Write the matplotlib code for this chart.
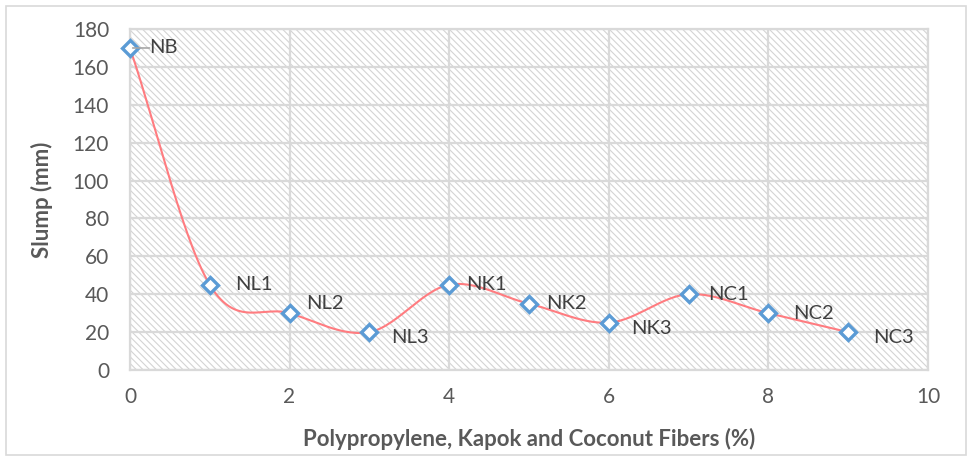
import matplotlib
matplotlib.use('Agg')
import matplotlib.pyplot as plt
import numpy as np
from matplotlib.patches import Rectangle

x = [0, 1, 2, 3, 4, 5, 6, 7, 8, 9]
slump = [170, 45, 30, 20, 45, 35, 25, 40, 30, 20]
names = ['NB', 'NL1', 'NL2', 'NL3', 'NK1', 'NK2', 'NK3', 'NC1', 'NC2', 'NC3']
# label offsets in points (dx, dy)
offsets = [(14, 0), (18, 0), (12, 7), (16, -4), (12, 0), (12, 0), (16, -4), (14, 0), (18, 0), (18, -4)]


def catmull_rom(px, py, n=30):
    px = np.asarray(px, float)
    py = np.asarray(py, float)
    P = np.column_stack([px, py])
    P = np.vstack([2 * P[0] - P[1], P, 2 * P[-1] - P[-2]])
    out = []
    t = np.linspace(0, 1, n)[:, None]
    for i in range(1, len(P) - 2):
        p0, p1, p2, p3 = P[i - 1], P[i], P[i + 1], P[i + 2]
        seg = 0.5 * ((2 * p1) + (-p0 + p2) * t + (2 * p0 - 5 * p1 + 4 * p2 - p3) * t ** 2
                     + (-p0 + 3 * p1 - 3 * p2 + p3) * t ** 3)
        out.append(seg)
    out = np.vstack(out)
    return out[:, 0], out[:, 1]


plt.rcParams['font.family'] = ['Lato', 'DejaVu Sans']
plt.rcParams['hatch.color'] = '#d4d4d4'
plt.rcParams['hatch.linewidth'] = 0.8
fig = plt.figure(figsize=(9.72, 4.61), dpi=100)
fig.patches.append(Rectangle((0.006, 0.012), 0.988, 0.976, transform=fig.transFigure,
                             fill=False, edgecolor='#d9d9d9', linewidth=1.2))
ax = fig.add_axes([0.1337, 0.1974, 0.8210, 0.7396])

ax.set_facecolor('white')
ax.add_patch(Rectangle((0, 0), 1, 1, transform=ax.transAxes, facecolor='white',
                       edgecolor='#d4d4d4', hatch='\\' * 5, linewidth=0, zorder=0))

ax.set_xlim(0, 10)
ax.set_ylim(0, 180)
ax.set_xticks(range(0, 11, 2))
ax.set_yticks(range(0, 181, 20))
ax.grid(True, color='#d9d9d9', linewidth=1.6, zorder=1)
ax.set_axisbelow(True)
for s in ax.spines.values():
    s.set_color('#d9d9d9')
    s.set_linewidth(1.6)
ax.tick_params(length=0, labelsize=15, colors='#595959')
ax.tick_params(axis='y', pad=15)
ax.tick_params(axis='x', pad=12)

sx, sy = catmull_rom(x, slump)
ax.plot(sx, sy, color='#ff7c80', linewidth=1.5, zorder=3, clip_on=False)
ax.plot(x, slump, linestyle='none', marker='D', markersize=8.5, markerfacecolor='white',
        markeredgecolor='#5b9bd5', markeredgewidth=2.4, zorder=4, clip_on=False)

for xi, yi, nm, (dx, dy) in zip(x, slump, names, offsets):
    ax.annotate(nm, (xi, yi), xytext=(dx, dy), textcoords='offset points',
                ha='left', va='center', fontsize=14.5, color='#404040', zorder=5)
# leader line for NB
ax.annotate('', xy=(0, 170), xytext=(0.28, 170),
            arrowprops=dict(arrowstyle='-', color='#a6a6a6', lw=1.2), zorder=5)

ax.set_xlabel('Polypropylene, Kapok and Coconut Fibers (%)', fontsize=16, fontweight='bold',
              color='#595959', labelpad=15)
ax.set_ylabel('Slump (mm)', fontsize=16, fontweight='bold', color='#595959', labelpad=14)

fig.savefig('out.png', dpi=100)
